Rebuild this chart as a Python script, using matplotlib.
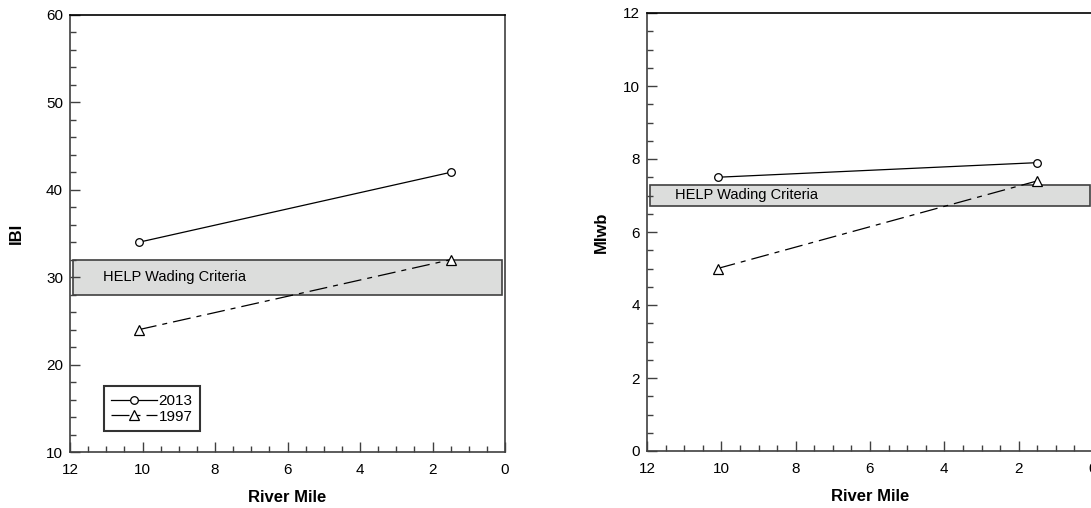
import matplotlib.pyplot as plt
from matplotlib.ticker import MultipleLocator

plt.rcParams["font.family"] = ["Liberation Sans", "DejaVu Sans"]

river_mile = [10.1, 1.5]
ibi_2013 = [34, 42]
ibi_1997 = [24, 32]
miwb_2013 = [7.5, 7.9]
miwb_1997 = [5.0, 7.4]
ibi_band = (28, 32)
miwb_band = (6.7, 7.3)
band_label = "HELP Wading Criteria"

fig = plt.figure(figsize=(10.91, 5.08), dpi=100)
ax1 = fig.add_axes([70 / 1091, 56 / 508, 435 / 1091, 437 / 508])
ax2 = fig.add_axes([647 / 1091, 57 / 508, 446 / 1091, 438 / 508])

spine_col = "#404040"
dash = (14.4, 4.8, 4, 4.8)


def draw(ax, y13, y97, band, ylim, major, minor, ylabel, tx, ylpad):
    ax.axhspan(band[0], band[1], xmin=0.006, xmax=0.994, facecolor="#dcdddc",
               edgecolor=spine_col, linewidth=1.2, zorder=1)
    ax.text(tx, sum(band) / 2, band_label, fontsize=10.5, va="center", ha="left", zorder=2)
    ax.plot(river_mile, y13, color="black", lw=0.9, marker="o", ms=5.5,
            mfc="white", mec="black", mew=0.9, label="2013", zorder=3)
    ax.plot(river_mile, y97, color="black", lw=0.9, dashes=dash, marker="^", ms=6.5,
            mfc="white", mec="black", mew=0.9, label="1997", zorder=3)
    ax.set_xlim(12, 0)
    ax.set_ylim(*ylim)
    ax.xaxis.set_major_locator(MultipleLocator(2))
    ax.xaxis.set_minor_locator(MultipleLocator(0.5))
    ax.yaxis.set_major_locator(MultipleLocator(major))
    ax.yaxis.set_minor_locator(MultipleLocator(minor))
    ax.tick_params(which="both", direction="in", color=spine_col, labelsize=11, pad=5)
    ax.tick_params(which="major", length=7, width=1)
    ax.tick_params(which="minor", length=4, width=1)
    ax.tick_params(axis="x", pad=8)
    for s in ax.spines.values():
        s.set_color(spine_col)
        s.set_linewidth(1.2)
    ax.spines["top"].set_color("black")
    ax.set_xlabel("River Mile", fontsize=12, fontweight="bold", labelpad=9)
    ax.set_ylabel(ylabel, fontsize=12, fontweight="bold", labelpad=ylpad)


draw(ax1, ibi_2013, ibi_1997, ibi_band, (10, 60), 10, 2, "IBI", 11.1, 16)
draw(ax2, miwb_2013, miwb_1997, miwb_band, (0, 12), 2, 0.5, "MIwb", 11.25, 10)

leg = ax1.legend(loc="lower left", bbox_to_anchor=(0.06, 0.03), fontsize=11,
                 frameon=True, fancybox=False, edgecolor="black", handlelength=3,
                 handletextpad=0.1, borderpad=0.5, labelspacing=0.1)
leg.get_frame().set_linewidth(1.5)

fig.savefig("out.png", dpi=100)
